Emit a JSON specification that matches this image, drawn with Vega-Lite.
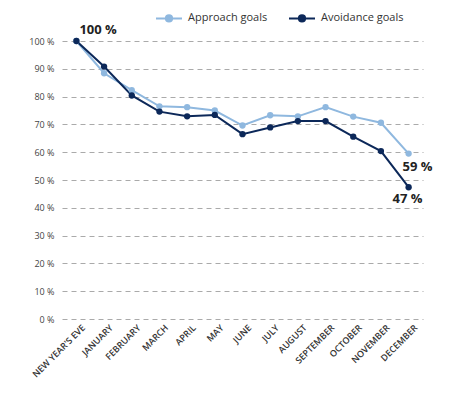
{
  "$schema": "https://vega.github.io/schema/vega-lite/v6.json",
  "autosize": "none",
  "width": 361,
  "height": 278,
  "padding": {"left": 62, "top": 41, "right": 32, "bottom": 82},
  "background": "white",
  "config": {
    "view": {"stroke": null},
    "font": "Open Sans"
  },
  "data": {
    "values": [
      {"month": "NEW YEAR'S EVE", "goal": "Approach goals", "pct": 100},
      {"month": "JANUARY", "goal": "Approach goals", "pct": 88.4},
      {"month": "FEBRUARY", "goal": "Approach goals", "pct": 82.3},
      {"month": "MARCH", "goal": "Approach goals", "pct": 76.5},
      {"month": "APRIL", "goal": "Approach goals", "pct": 76.2},
      {"month": "MAY", "goal": "Approach goals", "pct": 75},
      {"month": "JUNE", "goal": "Approach goals", "pct": 69.6},
      {"month": "JULY", "goal": "Approach goals", "pct": 73.3},
      {"month": "AUGUST", "goal": "Approach goals", "pct": 72.9},
      {"month": "SEPTEMBER", "goal": "Approach goals", "pct": 76.2},
      {"month": "OCTOBER", "goal": "Approach goals", "pct": 72.8},
      {"month": "NOVEMBER", "goal": "Approach goals", "pct": 70.6},
      {"month": "DECEMBER", "goal": "Approach goals", "pct": 59.5},
      {"month": "NEW YEAR'S EVE", "goal": "Avoidance goals", "pct": 100},
      {"month": "JANUARY", "goal": "Avoidance goals", "pct": 90.8},
      {"month": "FEBRUARY", "goal": "Avoidance goals", "pct": 80.4},
      {"month": "MARCH", "goal": "Avoidance goals", "pct": 74.6},
      {"month": "APRIL", "goal": "Avoidance goals", "pct": 72.9},
      {"month": "MAY", "goal": "Avoidance goals", "pct": 73.4},
      {"month": "JUNE", "goal": "Avoidance goals", "pct": 66.5},
      {"month": "JULY", "goal": "Avoidance goals", "pct": 68.9},
      {"month": "AUGUST", "goal": "Avoidance goals", "pct": 71.2},
      {"month": "SEPTEMBER", "goal": "Avoidance goals", "pct": 71.2},
      {"month": "OCTOBER", "goal": "Avoidance goals", "pct": 65.6},
      {"month": "NOVEMBER", "goal": "Avoidance goals", "pct": 60.4},
      {"month": "DECEMBER", "goal": "Avoidance goals", "pct": 47.4}
    ]
  },
  "encoding": {
    "x": {
      "field": "month",
      "type": "ordinal",
      "sort": null,
      "scale": {"type": "point", "padding": 0.52},
      "axis": {
        "title": null,
        "labelAngle": -45,
        "labelFontSize": 9,
        "labelColor": "#333",
        "labelFontWeight": 600,
        "ticks": false,
        "domain": false,
        "labelPadding": 4,
        "labelOffset": 4,
        "grid": false
      }
    },
    "y": {
      "field": "pct",
      "type": "quantitative",
      "scale": {"domain": [0, 100], "nice": false},
      "axis": {
        "title": null,
        "values": [0, 10, 20, 30, 40, 50, 60, 70, 80, 90, 100],
        "labelExpr": "datum.value + ' %'",
        "labelFontSize": 9,
        "labelColor": "#444",
        "labelPadding": 8,
        "ticks": false,
        "domain": false,
        "grid": true,
        "gridColor": "#aaaaaa",
        "gridDash": [5, 4],
        "gridWidth": 1
      }
    }
  },
  "layer": [
    {
      "mark": {"type": "line", "strokeWidth": 2, "point": {"filled": true, "size": 40}},
      "encoding": {
        "color": {
          "field": "goal",
          "type": "nominal",
          "scale": {"domain": ["Approach goals", "Avoidance goals"], "range": ["#8fb8df", "#0c2859"]},
          "legend": {
            "title": null,
            "orient": "none",
            "direction": "horizontal",
            "legendX": 93,
            "legendY": -37,
            "symbolType": "M-1,0L1,0M-0.24,0A0.24,0.24,0,1,1,0.24,0A0.24,0.24,0,1,1,-0.24,0Z",
            "symbolSize": 676,
            "symbolStrokeWidth": 2,
            "labelFontSize": 11,
            "labelColor": "#333",
            "labelOffset": 5,
            "columnPadding": 17,
            "encode": {
              "symbols": {"update": {"fill": {"scale": "color", "field": "value"}, "fillOpacity": {"value": 1}}}
            }
          }
        }
      }
    },
    {
      "transform": [{"filter": "datum.goal == 'Approach goals' && datum.month == \"NEW YEAR'S EVE\""}],
      "mark": {"type": "text", "align": "left", "dx": 3, "dy": -11, "fontSize": 13, "fontWeight": "bold", "color": "#222"},
      "encoding": {"text": {"value": "100 %"}}
    },
    {
      "transform": [{"filter": "datum.goal == 'Approach goals' && datum.month == 'DECEMBER'"}],
      "mark": {"type": "text", "align": "center", "dx": 9, "dy": 13, "fontSize": 13, "fontWeight": "bold", "color": "#222"},
      "encoding": {"text": {"value": "59 %"}}
    },
    {
      "transform": [{"filter": "datum.goal == 'Avoidance goals' && datum.month == 'DECEMBER'"}],
      "mark": {"type": "text", "align": "center", "dx": -1, "dy": 12, "fontSize": 13, "fontWeight": "bold", "color": "#222"},
      "encoding": {"text": {"value": "47 %"}}
    }
  ]
}
